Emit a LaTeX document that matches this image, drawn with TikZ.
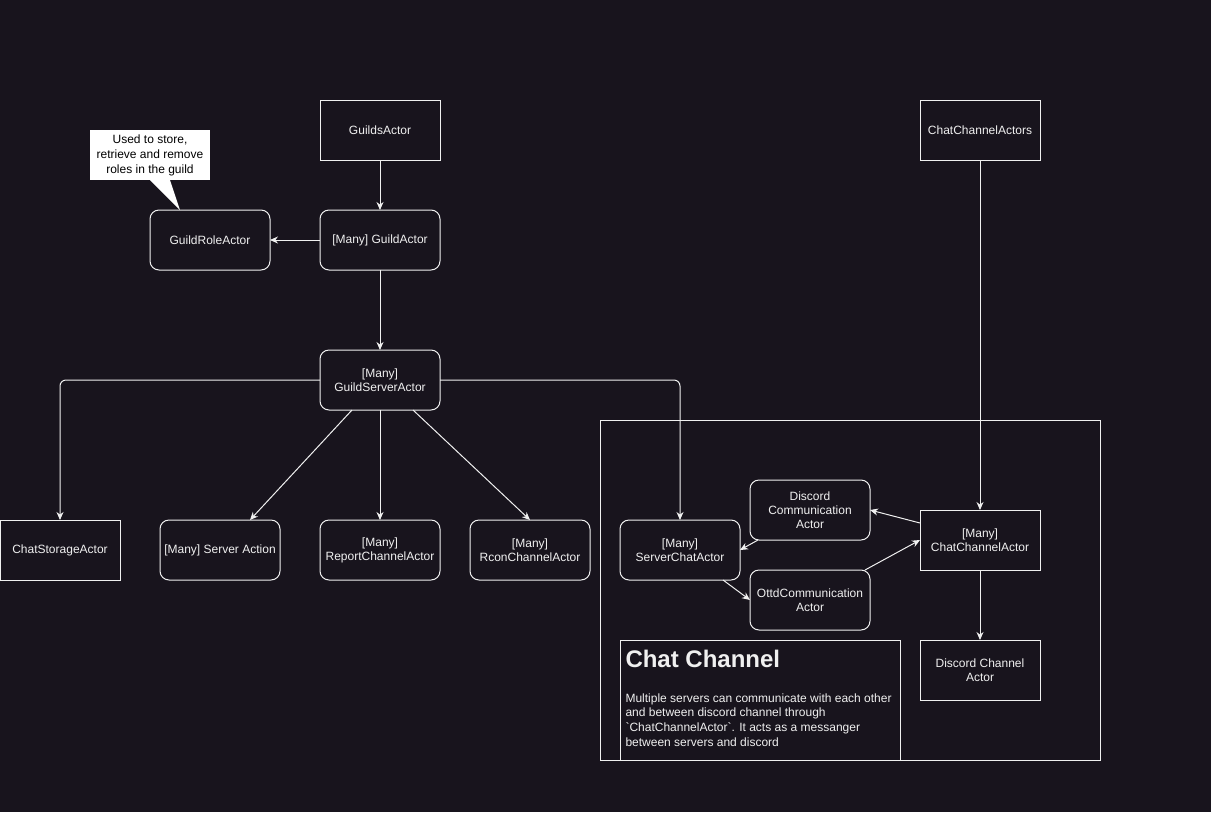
\documentclass[tikz,border=0pt]{standalone}
\usepackage{fontspec}
\setmainfont{Liberation Sans}
\usepackage{xcolor}
\usepackage{tikz}
\usetikzlibrary{arrows.meta,positioning}
\definecolor{canvas}{HTML}{18141D}
\definecolor{ink}{HTML}{F0F0F0}
\tikzset{
  block/.style={rectangle, draw=ink, rounded corners=9pt, fill=canvas, text=ink, align=center, minimum width=120pt, minimum height=60pt, inner sep=2pt, outer sep=0pt, font=\fontsize{12}{14}\selectfont},
  sharpblock/.style={block, sharp corners},
  line/.style={-{Stealth[length=8pt,width=7pt]}, draw=ink}
}

\begin{document}
\begin{tikzpicture}[x=1pt, y=-1pt, line width=1pt, node distance=50pt and 50pt]
  \fill[canvas] (0,0) rectangle (1211,812);
  \useasboundingbox (0,0) rectangle (1211,812);
  % guild side
  \node[sharpblock] (guilds) at (380,130) {GuildsActor};
  \node[block, below=of guilds] (guild) {[Many] GuildActor};
  \node[block, left=of guild] (role) {GuildRoleActor};
  \node[block, below=80pt of guild] (gserver) {[Many]\\GuildServerActor};
  \node[block, below=110pt of gserver] (report) {[Many]\\ReportChannelActor};
  \node[block, left=40pt of report] (saction) {[Many] Server Action};
  \node[sharpblock, left=40pt of saction] (storage) {ChatStorageActor};
  \node[block, right=30pt of report] (rcon) {[Many]\\RconChannelActor};
  % callout
  \node[fill=white, text=black, align=center, minimum width=120pt, minimum height=50pt, inner sep=0pt, outer sep=0pt, font=\fontsize{12}{15}\selectfont] (callout) at (150,155) {Used to store,\\retrieve and remove\\roles in the guild};
  \fill[white] (callout.south) -- ([xshift=-30pt]role.north) -- ([xshift=20pt]callout.south) -- cycle;
  % chat channel group
  \node[rectangle, draw=ink, outer sep=0pt, minimum width=500pt, minimum height=340pt] (group) at (850,590) {};
  \node[block, right=30pt of rcon] (srvchat) {[Many]\\ServerChatActor};
  \node[block] (dcomm) at (810,510) {Discord\\Communication\\Actor};
  \node[block] (ottd) at (810,600) {OttdCommunication\\Actor};
  \node[sharpblock] (channels) at (980,130) {ChatChannelActors};
  \node[sharpblock] (chatchan) at (980,540) {[Many]\\ChatChannelActor};
  \node[sharpblock, below=70pt of chatchan] (dchan) {Discord Channel\\Actor};
  % note
  \node[rectangle, draw=ink, outer sep=0pt, minimum width=280pt, minimum height=120pt, anchor=north west] (notebox) at (620,640) {};
  \node[anchor=north west, text=ink, inner sep=0pt, font=\fontsize{24}{28}\bfseries] (notehead) at ([xshift=5pt, yshift=-10pt]notebox.north west) {Chat Channel};
  \node[anchor=north west, text=ink, inner sep=0pt, align=left, font=\fontsize{12}{14.6}\selectfont] (notebody) at ([xshift=5pt, yshift=-53pt]notebox.north west) {Multiple servers can communicate with each other\\and between discord channel through\\\textasciigrave ChatChannelActor\textasciigrave. It acts as a messanger\\between servers and discord};
  % connectors
  \draw[line] (guilds) -- (guild);
  \draw[line] (guild) -- (role);
  \draw[line] (guild) -- (gserver);
  \draw[line, rounded corners=6pt] (gserver.west) -| (storage.north);
  \draw[line, rounded corners=6pt] (gserver.east) -| (srvchat.north);
  \draw[line] ([xshift=-28pt]gserver.south) -- ([xshift=30pt]saction.north);
  \draw[line] (gserver) -- (report);
  \draw[line] ([xshift=33pt]gserver.south) -- (rcon.north);
  \draw[line] (channels) -- (chatchan);
  \draw[line] (chatchan) -- (dchan);
  \draw[line] ([yshift=17pt]chatchan.west) -- (dcomm.east);
  \draw[line] ([xshift=-52pt]dcomm.south) -- (srvchat.east);
  \draw[line] ([xshift=43pt]srvchat.south) -- (ottd.west);
  \draw[line] ([xshift=55pt]ottd.north) -- (chatchan.west);
\end{tikzpicture}
\end{document}
